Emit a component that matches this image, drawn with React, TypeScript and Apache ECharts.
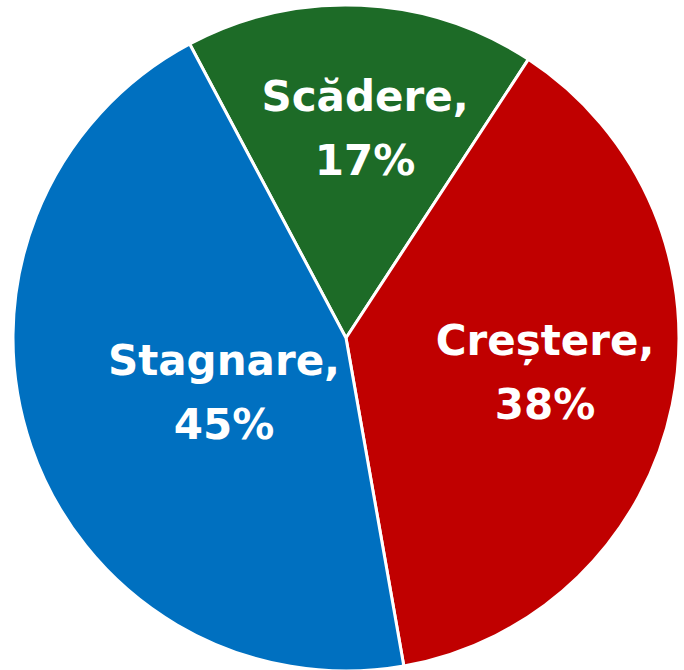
import React, { useEffect, useRef } from "react";
import * as echarts from "echarts";

const categories = ["Scădere", "Creștere", "Stagnare"];
const values = [17, 38, 45];
const colors = ["#1D6B27", "#C00000", "#0070C0"];
// label block centres, as offsets from the pie centre in px
const labelOffsets = [
  [19, -210],
  [199, 34],
  [-122, 54],
];

export default function App() {
  const ref = useRef<HTMLDivElement>(null);
  useEffect(() => {
    document.body.style.margin = "0";
    const chart = echarts.init(ref.current!, null, { renderer: "svg" });
    const cx = 346;
    const cy = 338;
    chart.setOption({
      animation: false,
      backgroundColor: "#ffffff",
      series: [
        {
          type: "pie",
          center: [cx, cy],
          radius: 333,
          startAngle: 118,
          clockwise: true,
          avoidLabelOverlap: false,
          itemStyle: { borderColor: "#ffffff", borderWidth: 3 },
          label: {
            show: true,
            position: "inside",
            formatter: "{b},\n{c}%",
            color: "#ffffff",
            fontFamily: "DejaVu Sans",
            fontWeight: "bold",
            fontSize: 42,
            lineHeight: 64,
            align: "center",
            verticalAlign: "middle",
          },
          labelLine: { show: false },
          labelLayout: (params: any) => {
            const o = labelOffsets[params.dataIndex];
            return { x: cx + o[0], y: cy + o[1], align: "center", verticalAlign: "middle" };
          },
          data: categories.map((name, i) => ({
            name,
            value: values[i],
            itemStyle: { color: colors[i] },
          })),
        },
      ],
    });
    return () => chart.dispose();
  }, []);
  return <div ref={ref} style={{ width: 684, height: 670 }} />;
}
